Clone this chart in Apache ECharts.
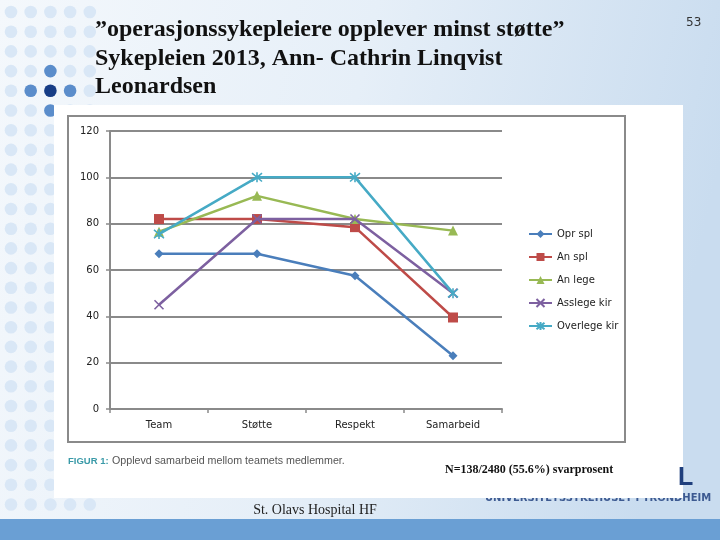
<!DOCTYPE html>
<html><head><meta charset="utf-8">
<script src="https://cdn.jsdelivr.net/npm/echarts@6/dist/echarts.min.js"></script>
<style>html,body{margin:0;padding:0;}#c{width:720px;height:540px;}</style>
</head><body><div id="c"></div>
<script>
const categories = ['Team', 'Støtte', 'Respekt', 'Samarbeid'];
const oprSpl = [67, 67, 57.5, 23];
const anSpl = [82, 82, 78.5, 39.5];
const anLege = [76.5, 92, 82, 77];
const asslegeKir = [45, 82, 82, 50];
const overlegeKir = [75.5, 100, 100, 50];
const seriesNames = ['Opr spl', 'An spl', 'An lege', 'Asslege kir', 'Overlege kir'];
const yTicks = [0, 20, 40, 60, 80, 100, 120];

const colors = ['#4a7ebb', '#be4b48', '#98b954', '#7d60a0', '#46aac5'];
const chart = echarts.init(document.getElementById('c'), null, {renderer: 'canvas'});

// background dots
const dots = [];
const dark = {'2,3': '#5b8dcb', '1,4': '#5b8dcb', '2,4': '#173d86', '3,4': '#5b8dcb', '2,5': '#5b8dcb'};
for (let r = 0; r < 26; r++) {
  for (let c = 0; c < 5; c++) {
    const key = c + ',' + r;
    dots.push({type: 'circle', shape: {cx: 11 + c * 19.7, cy: 12 + r * 19.7, r: 6.3},
      style: {fill: dark[key] || '#d9e7f6'}, z: 1});
  }
}

const graphics = [
  {type: 'rect', shape: {x: 0, y: 0, width: 720, height: 540},
   style: {fill: new echarts.graphic.LinearGradient(0, 0, 1, 0.3, [
     {offset: 0, color: '#f4f8fc'}, {offset: 0.5, color: '#e6eff8'}, {offset: 1, color: '#c9dcef'}])}, z: 0},
  ...dots,
  {type: 'rect', shape: {x: 0, y: 519, width: 720, height: 21}, style: {fill: '#6a9fd4'}, z: 2},
  {type: 'text', x: 485, y: 498, style: {text: 'UNIVERSITETSSYKEHUSET I TRONDHEIM', font: 'bold 10px "DejaVu Sans"', fill: '#3d5a91', textVerticalAlign: 'middle'}, z: 2},
  {type: 'rect', shape: {x: 54, y: 105, width: 629, height: 393}, style: {fill: '#ffffff'}, z: 3},
  {type: 'text', x: 678, y: 478, style: {text: 'L', font: 'bold 25px "Liberation Sans"', fill: '#1f3f7d', textVerticalAlign: 'middle'}, z: 5},
  {type: 'rect', shape: {x: 68, y: 116, width: 557, height: 326}, style: {fill: '#ffffff', stroke: '#8a8a8a', lineWidth: 2}, z: 4},
  {type: 'text', x: 95, y: 30, style: {text: '\u201doperasjonssykepleiere opplever minst støtte\u201d', font: 'bold 24px "Liberation Serif"', fill: '#111', textVerticalAlign: 'middle'}, z: 5},
  {type: 'text', x: 95, y: 59, style: {text: 'Sykepleien 2013, Ann- Cathrin Linqvist', font: 'bold 24px "Liberation Serif"', fill: '#111', textVerticalAlign: 'middle'}, z: 5},
  {type: 'text', x: 95, y: 87, style: {text: 'Leonardsen', font: 'bold 24px "Liberation Serif"', fill: '#111', textVerticalAlign: 'middle'}, z: 5},
  {type: 'text', x: 686, y: 23, style: {text: '53', font: '12px "DejaVu Sans"', fill: '#333', textVerticalAlign: 'middle'}, z: 5},
  {type: 'text', x: 68, y: 461, style: {text: '{a|FIGUR 1:} {b|Opplevd samarbeid mellom teamets medlemmer.}',
    rich: {a: {font: 'bold 9.5px "Liberation Sans"', fill: '#3a9aa8'}, b: {font: '10.7px "Liberation Sans Narrow", "Liberation Sans"', fill: '#555'}},
    textVerticalAlign: 'middle'}, z: 5},
  {type: 'text', x: 445, y: 470, style: {text: 'N=138/2480 (55.6%) svarprosent', font: 'bold 12px "Liberation Serif"', fill: '#111', textVerticalAlign: 'middle'}, z: 5},
  {type: 'text', x: 315, y: 510, style: {text: 'St. Olavs Hospital HF', font: '14px "Liberation Serif"', fill: '#222', textAlign: 'center', textVerticalAlign: 'middle'}, z: 5}
];

const xPath = 'path://M0,0L10,10M10,0L0,10';
const starPath = 'path://M0,0L10,10M10,0L0,10M5,-1L5,11';
const symbols = ['diamond', 'rect', 'triangle', xPath, starPath];
const sizes = [9, 10, 10, 9, 10];
const dataArr = [oprSpl, anSpl, anLege, asslegeKir, overlegeKir];

const series = dataArr.map((d, i) => {
  const stroke = i >= 3;
  return {
    name: seriesNames[i], type: 'line', data: d, symbol: symbols[i], symbolSize: sizes[i],
    showSymbol: true, z: 10 + i,
    lineStyle: {color: colors[i], width: 2.5},
    itemStyle: stroke ? {color: 'rgba(0,0,0,0)', borderColor: colors[i], borderWidth: 1.6}
                      : {color: colors[i], borderColor: colors[i], borderWidth: 0}
  };
});

chart.setOption({
  animation: false,
  graphic: {elements: graphics},
  color: colors,
  grid: {left: 110, right: 218, top: 131, bottom: 131, z: 6},
  legend: {
    orient: 'vertical', left: 523, top: 224, itemGap: 13, itemWidth: 23, itemHeight: 10,
    textStyle: {fontSize: 10, color: '#222', fontFamily: '"DejaVu Sans"'}, z: 20,
    data: seriesNames
  },
  xAxis: {
    type: 'category', data: categories, boundaryGap: true, z: 8,
    axisLine: {lineStyle: {color: '#8a8a8a', width: 2}},
    axisTick: {show: true, length: 4, lineStyle: {color: '#8a8a8a', width: 1.5}},
    axisLabel: {margin: 11, fontSize: 10, color: '#222', fontFamily: '"DejaVu Sans"'}
  },
  yAxis: {
    type: 'value', min: 0, max: 120, interval: 20, z: 8,
    axisLine: {show: true, lineStyle: {color: '#8a8a8a', width: 2}},
    axisTick: {show: true, length: 4, lineStyle: {color: '#8a8a8a', width: 1.5}},
    axisLabel: {margin: 11, fontSize: 10, color: '#222', fontFamily: '"DejaVu Sans"',
      formatter: v => yTicks.includes(v) ? String(v) : ''},
    splitLine: {lineStyle: {color: '#8a8a8a', width: 1.8}}
  },
  series: series
});
</script></body></html>
